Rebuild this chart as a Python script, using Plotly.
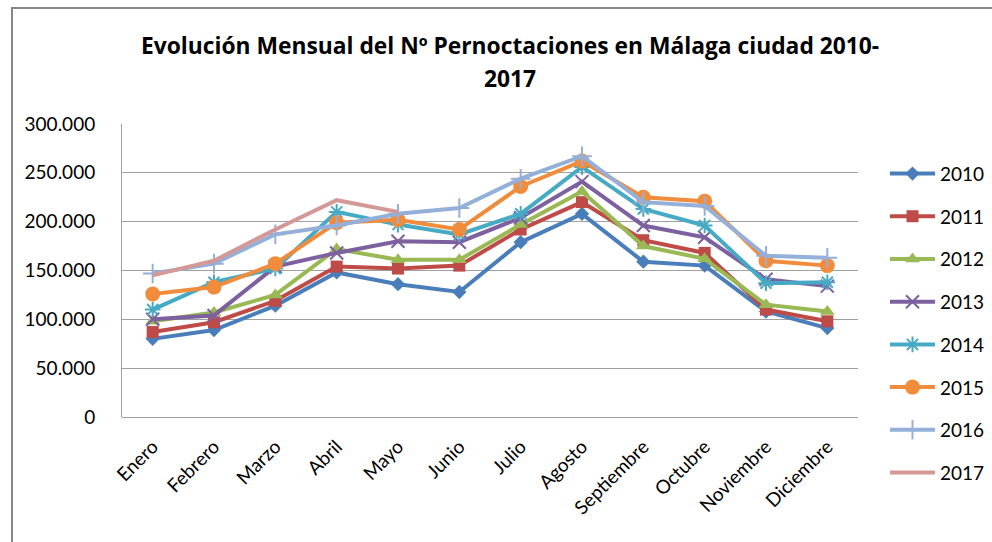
import plotly.graph_objects as go

months = ["Enero", "Febrero", "Marzo", "Abril", "Mayo", "Junio", "Julio",
          "Agosto", "Septiembre", "Octubre", "Noviembre", "Diciembre"]

y2010 = [80000, 89000, 114000, 148000, 136000, 128000, 179000, 208000, 159000, 155000, 108000, 91000]
y2011 = [87000, 97000, 119000, 154000, 152000, 155000, 192000, 220000, 181000, 168000, 110000, 98000]
y2012 = [98000, 107000, 125000, 172000, 161000, 161000, 197000, 231000, 175000, 162000, 115000, 108000]
y2013 = [100000, 104000, 154000, 168000, 180000, 179000, 204000, 241000, 196000, 184000, 141000, 134000]
y2014 = [110000, 138000, 152000, 210000, 197000, 187000, 208000, 256000, 213000, 196000, 137000, 138000]
y2015 = [126000, 133000, 157000, 199000, 202000, 192000, 236000, 262000, 225000, 221000, 160000, 155000]
y2016 = [147000, 157000, 187000, 196000, 208000, 214000, 244000, 267000, 220000, 216000, 165000, 163000]
y2017 = [145000, 160000, 192000, 222000, 210000]

years = ["2010", "2011", "2012", "2013", "2014", "2015", "2016", "2017"]
series = [y2010, y2011, y2012, y2013, y2014, y2015, y2016, y2017]
y_ticks = [0, 50000, 100000, 150000, 200000, 250000, 300000]

title_line1 = "Evolución Mensual del Nº Pernoctaciones en Málaga ciudad 2010-"
title_line2 = "2017"

colors = ["#4A7EBB", "#BE4B48", "#98B954", "#7D60A0", "#46AAC5", "#F08C3C", "#94B0DA", "#D49896"]
symbols = ["diamond", "square", "triangle-up", "x-thin-open", "asterisk-open",
           "circle", "cross-thin-open", None]
sizes = [11, 12, 13, 13, 13, 15, 14, 0]

fig = go.Figure()
for i, (name, vals) in enumerate(zip(years, series)):
    marker = dict(color=colors[i], size=sizes[i])
    if symbols[i] is None:
        mode = "lines"
    else:
        mode = "lines+markers"
        marker["symbol"] = symbols[i]
        if symbols[i].endswith("-open"):
            marker["line"] = dict(color=colors[i], width=2)
    fig.add_trace(go.Scatter(
        x=months[:len(vals)], y=vals, name=name, mode=mode,
        line=dict(color=colors[i], width=4),
        marker=marker, legendgroup=name,
    ))

H = 293.0
W = 736.0
title_font = dict(size=22.8, family="Open Sans, sans-serif", color="#000000")

fig.update_layout(
    width=992, height=542,
    margin=dict(l=122, r=134, t=124, b=125, autoexpand=False),
    paper_bgcolor="white", plot_bgcolor="white",
    separators=",.",
    font=dict(family="Lato, Carlito, Calibri, sans-serif", size=19, color="#000000"),
    showlegend=True,
    legend=dict(
        x=(885 - 122) / W, xanchor="left", y=0.895, yanchor="top",
        font=dict(size=19),
        traceorder="grouped", tracegroupgap=15,
        itemwidth=45, bgcolor="rgba(0,0,0,0)",
        maxheight=420,
    ),
    xaxis=dict(
        type="category", tickangle=-45, showgrid=False,
        showline=False, ticks="", tickfont=dict(size=19),
        range=[-0.5, 11.5], ticklabelstandoff=14,
    ),
    yaxis=dict(
        range=[0, 300000], tickvals=y_ticks, tickformat=",d",
        showgrid=True, gridcolor="#A0A0A0", gridwidth=1,
        showline=True, linecolor="#A0A0A0", linewidth=1,
        zeroline=True, zerolinecolor="#A0A0A0", zerolinewidth=1,
        ticks="", tickfont=dict(size=19), ticklabelstandoff=22,
    ),
    annotations=[
        dict(text="<b>" + title_line1 + "</b>", xref="paper", yref="paper",
             x=(510 - 122) / W, y=(417 - 45) / H, xanchor="center", yanchor="middle",
             showarrow=False, font=title_font),
        dict(text="<b>" + title_line2 + "</b>", xref="paper", yref="paper",
             x=(510 - 122) / W, y=(417 - 78) / H, xanchor="center", yanchor="middle",
             showarrow=False, font=title_font),
    ],
    shapes=[
        dict(type="rect", xref="paper", yref="paper",
             x0=(12 - 122) / W, x1=(1010 - 122) / W,
             y0=(417 - 560) / H, y1=(417 - 8) / H,
             line=dict(color="#868686", width=2), fillcolor="rgba(0,0,0,0)", layer="below"),
    ],
)

fig.write_html("out.html", config={"displayModeBar": False},
               post_script="document.body.style.margin='0';")
